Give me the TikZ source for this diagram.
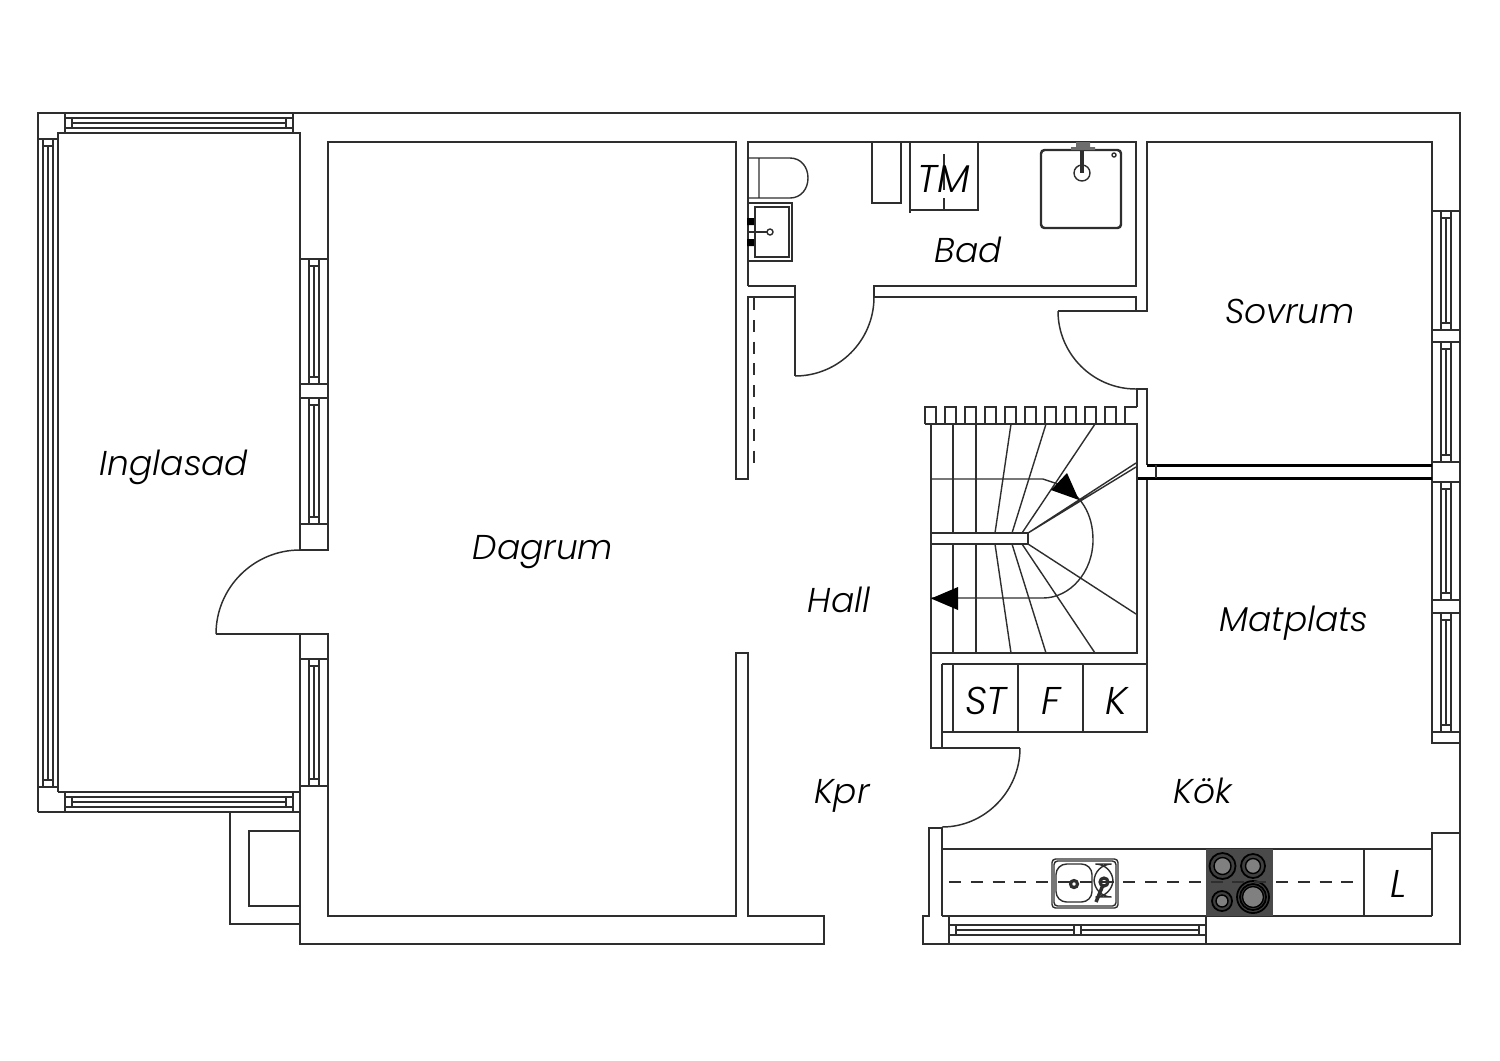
\documentclass[tikz,border=0pt]{standalone}
\usepackage{fontspec}
\newfontfamily\roomfont{Poppins Light}[ItalicFont={Poppins Light Italic}]
\usetikzlibrary{positioning}
\definecolor{planline}{HTML}{2E2E2E}
\definecolor{hobdark}{HTML}{4A4A4A}
\definecolor{hobring}{HTML}{808080}
\tikzset{
  wall/.style={draw=planline,line width=0.42pt,line join=miter},
  heavywall/.style={draw=black,line width=0.85pt},
  fixture/.style={draw=planline,line width=0.4pt},
  room/.style={font=\roomfont\itshape\fontsize{9.8}{12}\selectfont,text=black,inner sep=0pt},
  unit/.style={font=\roomfont\itshape\fontsize{11}{13}\selectfont,text=black,inner sep=0pt},
  burner/.style={draw=black,line width=0.5pt,fill=black!75},
  burnertop/.style={draw=black,line width=0.4pt,fill=hobring},
}
\begin{document}
\begin{tikzpicture}[x=0.01cm,y=-0.01cm]
  \useasboundingbox (0,0) rectangle (1500,1060);

  % outer walls
  \draw[wall] (38,812) -- (38,113) -- (1460,113) -- (1460,944) -- (923,944) -- (923,916) -- (929,916) -- (929,828) -- (942,828) -- (942,916);
  \draw[wall] (38,812) -- (300,812);
  \draw[wall] (38,139) -- (58,139) (38,787) -- (58,787);
  \draw[wall] (65,113) -- (65,133) (293,113) -- (293,133) (65,792) -- (65,812) (293,792) -- (293,812);

  % rooms
  \draw[wall] (58,792) -- (58,133) -- (300,133) -- (300,550) -- (328,550) -- (328,142) -- (736,142) -- (736,479) -- (748,479) -- (748,297) -- (795,297);
  \draw[wall] (58,792) -- (300,792);
  \draw[wall] (216,634) -- (328,634) -- (328,916) -- (736,916) -- (736,653) -- (748,653) -- (748,916) -- (824,916) -- (824,944) -- (300,944) -- (300,634);
  \draw[wall] (300,259) -- (328,259) (300,384) -- (328,384) (300,398) -- (328,398) (300,524) -- (328,524) (300,659) -- (328,659) (300,786) -- (328,786);
  \draw[wall] (748,286) -- (748,142) -- (1136,142) -- (1136,286) -- (874,286) -- (874,297) -- (1136,297) -- (1136,311) -- (1058,311);
  \draw[wall] (748,286) -- (795,286) -- (795,376);
  \draw[wall] (1136,311) -- (1147,311) -- (1147,142) -- (1432,142) -- (1432,743) -- (1460,743);
  \draw[wall] (1432,211) -- (1460,211) (1432,330) -- (1460,330) (1432,342) -- (1460,342) (1432,462) -- (1460,462) (1432,482) -- (1460,482) (1432,600) -- (1460,600) (1432,613) -- (1460,613) (1432,732) -- (1460,732);
  \draw[wall] (1137,407) -- (1137,389) -- (1147,389) -- (1147,465);
  \draw[wall] (1147,478) -- (1147,732) -- (942,732);
  \draw[wall] (942,664) -- (1147,664) (953,664) -- (953,732) (1018,664) -- (1018,732) (1083,664) -- (1083,732);
  \draw[wall] (942,664) -- (942,748) (931,653) -- (931,748) -- (1020,748);
  \draw[heavywall] (1147,465) -- (1432,465) (1136,478) -- (1432,478);
  \draw[wall] (1156,465) -- (1156,478);
  \draw[fixture,dash pattern=on 3.4pt off 2.8pt] (754,298) -- (754,468);

  % doors
  \draw[wall] (300,550) .. controls (253.6,550) and (216,587.6) .. (216,634);
  \draw[wall] (795,376) .. controls (838.6,376) and (874,340.6) .. (874,297);
  \draw[wall] (1058,311) .. controls (1058,354) and (1093,389) .. (1136,389);
  \draw[wall] (1020,748) .. controls (1020,791) and (985,827) .. (942,827);

  % windows
  \foreach \cx/\ya/\yb in {48/139/787,314/259/384,314/398/524,314/659/786,1446/211/330,1446/342/462,1446/482/600,1446/613/732} {
    \draw[fixture] (\cx-5,\ya) rectangle (\cx+5,\ya+7) (\cx-5,\yb-7) rectangle (\cx+5,\yb);
    \draw[fixture] (\cx-5,\ya+7) -- (\cx-5,\yb-7) (\cx,\ya+7) -- (\cx,\yb-7) (\cx+5,\ya+7) -- (\cx+5,\yb-7);
  }
  \foreach \cy/\xa/\xb in {123/65/293,802/65/293,930/949/1081,930/1074/1206} {
    \draw[fixture] (\xa,\cy-5) rectangle (\xa+7,\cy+5) (\xb-7,\cy-5) rectangle (\xb,\cy+5);
    \draw[fixture] (\xa+7,\cy-5) -- (\xb-7,\cy-5) (\xa+7,\cy) -- (\xb-7,\cy) (\xa+7,\cy+5) -- (\xb-7,\cy+5);
  }

  % porch box
  \draw[wall] (230,812) -- (230,924) -- (300,924) (300,831) -- (249,831) -- (249,906) -- (300,906);

  % stairs
  \foreach \xs in {925,945,...,1105}
    \draw[fixture] (\xs,424) -- (\xs,407) -- (\xs+11,407) -- (\xs+11,424);
  \draw[fixture] (1125,424) -- (1125,407) -- (1137,407);
  \draw[wall] (925,424) -- (1137,424) -- (1137,653) -- (931,653) -- (931,424);
  \draw[fixture] (931,533) -- (1028,533) -- (1028,544) -- (931,544);
  \foreach \xs in {953,976}
    \draw[fixture] (\xs,424) -- (\xs,533) (\xs,544) -- (\xs,653);
  \draw[fixture] (995,533) -- (1011,424) (1012,533) -- (1046,424) (1022,533) -- (1095,424);
  \draw[fixture] (995,544) -- (1011,653) (1012,544) -- (1046,653) (1022,544) -- (1095,653) (1028,544) -- (1136,614);
  \draw[fixture] (1028,533) -- (1136,463) (1028,533) -- (1136,467);
  \draw[fixture] (931,479) -- (1043,479) -- (1055,483) .. controls (1082,493) and (1093,515) .. (1093,540) .. controls (1093,572) and (1070,598) .. (1043,598) -- (931,598);
  \fill[black] (1079,500) -- (1067,473) -- (1051,490) -- cycle;
  \fill[black] (931,598.5) -- (958,587) -- (958,610) -- cycle;

  % bath fixtures
  \draw[fixture] (748,158) -- (790,158) .. controls (801,158) and (808,167) .. (808,178) .. controls (808,189) and (801,198) .. (790,198) -- (748,198) (759,158) -- (759,198);
  \draw[fixture] (748,203) -- (792,203) -- (792,261) -- (748,261) (755,207) rectangle (789,257);
  \fill[black] (747,218) rectangle (754,225) (747,239) rectangle (754,246);
  \draw[fixture,line width=0.8pt] (748,232) -- (767,232);
  \draw[fixture,fill=white] (770,232) circle[radius=3];
  \draw[fixture] (872,142) -- (872,203) -- (901,203) -- (901,142);
  \draw[fixture] (910,210) -- (978,210) -- (978,142);
  \draw[fixture,line width=0.6pt] (910,142) -- (910,213);
  \draw[fixture] (944,154) -- (944,190) (944,198) -- (944,210);
  \draw[fixture,line width=0.7pt,rounded corners=1pt] (1041,150) rectangle (1121,228);
  \draw[fixture] (1082,173) circle[radius=8];
  \draw[fixture,line width=0.9pt] (1082,143) -- (1082,173);
  \fill[planline!70] (1071,147) rectangle (1095,150) (1076,142) rectangle (1090,147);
  \draw[fixture] (1114,155) circle[radius=2];

  % kitchen
  \draw[wall] (942,849) -- (1432,849) (942,916) -- (1432,916) (1364,849) -- (1364,916);
  \draw[wall] (1432,916) -- (1432,833) -- (1460,833);
  \draw[wall] (949,916) -- (949,944) (1206,916) -- (1206,944);
  \fill[hobdark] (1206,849) rectangle (1273,916);
  \draw[burner] (1222.5,866) circle[radius=13];
  \draw[burnertop] (1222.5,866) circle[radius=8.5];
  \draw[burner] (1253,866) circle[radius=12];
  \draw[burnertop] (1253,866) circle[radius=7.5];
  \draw[burner] (1222,901) circle[radius=10];
  \draw[burnertop] (1222,901) circle[radius=6];
  \draw[burner] (1253,897) circle[radius=16];
  \draw[burner] (1253,897) circle[radius=13];
  \draw[burnertop] (1253,897) circle[radius=10.5];
  \draw[fixture,dash pattern=on 3.4pt off 2.8pt] (949,882) -- (1364,882);
  \draw[fixture,rounded corners=1pt] (1052,859) rectangle (1118,908) (1054,861) rectangle (1116,906);
  \draw[fixture,rounded corners=3pt] (1056,864) rectangle (1092,902);
  \draw[fixture,rounded corners=5pt] (1094,864) rectangle (1113,897);
  \draw[fixture,line width=0.9pt] (1074,884) circle[radius=3.5];
  \draw[fixture,line width=0.9pt] (1104,882) circle[radius=4];
  \draw[fixture,line width=1pt] (1103,885) -- (1096,902);

  % labels
  \node (room inglasad) at (174,467) [room] {Inglasad};
  \node (room dagrum) at (543,552) [room] {Dagrum};
  \node (room hall) at (839,600) [room] {Hall};
  \node (room bad) at (968,250) [room] {Bad};
  \node (room sovrum) at (1290,311) [room] {Sovrum};
  \node (room matplats) at (1294,623) [room] {Matplats};
  \node (room kpr) at (842,796) [room] {Kpr};
  \node (room kok) at (1203,791) [room] {Kök};
  \node (unit tm) at (944,179) [unit] {TM};
  \node (unit st) at (986,701) [unit] {ST};
  \node (unit f) at (1051,701) [unit] {F};
  \node (unit k) at (1116,701) [unit] {K};
  \node (unit l) at (1399,884) [unit] {L};
\end{tikzpicture}
\end{document}
